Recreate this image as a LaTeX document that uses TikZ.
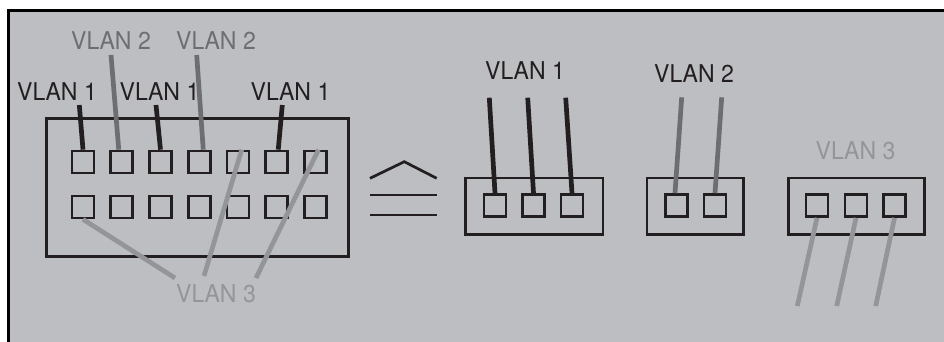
\documentclass[tikz,border=0pt]{standalone}
\usepackage{fontspec}
\setmainfont{TeX Gyre Heros}
\newfontfamily\lblfont[FakeStretch=0.94]{TeX Gyre Heros}

\definecolor{panel}{RGB}{189,190,194}
\definecolor{ink}{RGB}{35,31,32}
\definecolor{vtwo}{RGB}{109,110,113}
\definecolor{vthree}{RGB}{147,149,152}

\tikzset{
    port/.style={draw=ink, line width=2.7pt, minimum size=22pt, inner sep=0pt},
    swbox/.style={draw=ink, line width=2.7pt, inner sep=0pt},
    lbl/.style={font=\lblfont\fontsize{24.5}{24.5}\selectfont, inner sep=0pt},
    wire/.style={line width=4.7pt},
}

\begin{document}
\begin{tikzpicture}[x=1pt, y=-1pt]
        \useasboundingbox (0,0) rectangle (944,341);
        \clip (0,0) rectangle (944,341);
        \draw[fill=panel, line width=2.7pt] (8.8,10.8) rectangle (1000,400);  %panel

        % switch with 14 ports
        \node[swbox, minimum width=302.6pt, minimum height=138.6pt] (sw) at (197.5,187.5) {};
        \node[port] (t1) at (83,162) {};
        \node[port] (t2) at (121.75,162) {};
        \node[port] (t3) at (160.5,162) {};
        \node[port] (t4) at (199.25,162) {};
        \node[port] (t5) at (238,162) {};
        \node[port] (t6) at (276.75,162) {};
        \node[port] (t7) at (315.5,162) {};
        \node[port] (b1) at (83,207) {};
        \node[port] (b2) at (121.75,207) {};
        \node[port] (b3) at (160.5,207) {};
        \node[port] (b4) at (199.25,207) {};
        \node[port] (b5) at (238,207) {};
        \node[port] (b6) at (276.75,207) {};
        \node[port] (b7) at (315.5,207) {};

        \node[lbl, text=ink] (l1a) at (57,91.7) {VLAN 1};
        \node[lbl, text=ink] (l1b) at (159.5,91.7) {VLAN 1};
        \node[lbl, text=ink] (l1c) at (290.5,91.7) {VLAN 1};
        \node[lbl, text=vtwo] (l2a) at (111,40.5) {VLAN 2};
        \node[lbl, text=vtwo] (l2b) at (216,40.5) {VLAN 2};
        \node[lbl, text=vthree] (l3) at (216,293.5) {VLAN 3};

        \coordinate (w1a) at (79.3,105);
        \coordinate (w1b) at (156,105);
        \coordinate (w1c) at (282.3,105);
        \coordinate (w2a) at (111,55);
        \coordinate (w2b) at (196.7,55);
        \coordinate (w3a) at (175,278);
        \coordinate (w3b) at (204,276);
        \coordinate (w3c) at (256,278);

        \draw[wire, ink] (w1a) -- (t1.north);
        \draw[wire, ink] (w1b) -- (t3.north);
        \draw[wire, ink] (w1c) -- ([xshift=1.5pt]t6.north);
        \draw[wire, vtwo] (w2a) -- ([xshift=-3pt]t2.north);
        \draw[wire, vtwo] (w2b) -- ([xshift=4pt]t4.north);
        \draw[wire, vthree] (b1.south) -- (w3a);
        \draw[wire, vthree] ([xshift=3.7pt]t5.north) -- (w3b);
        \draw[wire, vthree] ([xshift=3pt]t7.north) -- (w3c);

        % corresponds-to sign
        \draw[line width=2.7pt, ink] (370,178.3) -- (404.3,161.7) -- (436.7,178.3);
        \draw[line width=2.7pt, ink] (370,195) -- (436.7,195);
        \draw[line width=2.7pt, ink] (370,215) -- (436.7,215);

        % vlan 1 group
        \node[swbox, minimum width=137.3pt, minimum height=56.5pt] (g1) at (534.2,206.2) {};
        \node[port] (g1a) at (495,205.5) {};
        \node[port] (g1b) at (533.5,205.5) {};
        \node[port] (g1c) at (572,205.5) {};
        \node[lbl, text=ink] (l1r) at (525,70.5) {VLAN 1};
        \coordinate (r1a) at (489.3,97.7);
        \coordinate (r1b) at (527.7,97.7);
        \coordinate (r1c) at (565.7,97.7);
        \draw[wire, ink] (r1a) -- (g1a.north);
        \draw[wire, ink] (r1b) -- (g1b.north);
        \draw[wire, ink] (r1c) -- (g1c.north);

        % vlan 2 group
        \node[swbox, minimum width=96.8pt, minimum height=56.5pt] (g2) at (695.4,206.2) {};
        \node[port] (g2a) at (676.5,205.5) {};
        \node[port] (g2b) at (715,205.5) {};
        \node[lbl, text=ink] (l2r) at (694,74) {VLAN 2};
        \coordinate (r2a) at (681.7,97.3);
        \coordinate (r2b) at (721.7,97.3);
        \draw[wire, vtwo] (r2a) -- ([xshift=-1.5pt]g2a.north);
        \draw[wire, vtwo] (r2b) -- (g2b.north);

        % vlan 3 group
        \node[swbox, minimum width=136.6pt, minimum height=56.5pt] (g3) at (856.5,206.2) {};
        \node[port] (g3a) at (817,205.5) {};
        \node[port] (g3b) at (856,205.5) {};
        \node[port] (g3c) at (894.5,205.5) {};
        \node[lbl, text=vthree] (l3r) at (855.5,151) {VLAN 3};
        \coordinate (r3a) at (797.3,306);
        \coordinate (r3b) at (836.7,306);
        \coordinate (r3c) at (875.7,306);
        \draw[wire, vthree] (g3a.south) -- (r3a);
        \draw[wire, vthree] (g3b.south) -- (r3b);
        \draw[wire, vthree] (g3c.south) -- (r3c);
    \end{tikzpicture}
\end{document}
